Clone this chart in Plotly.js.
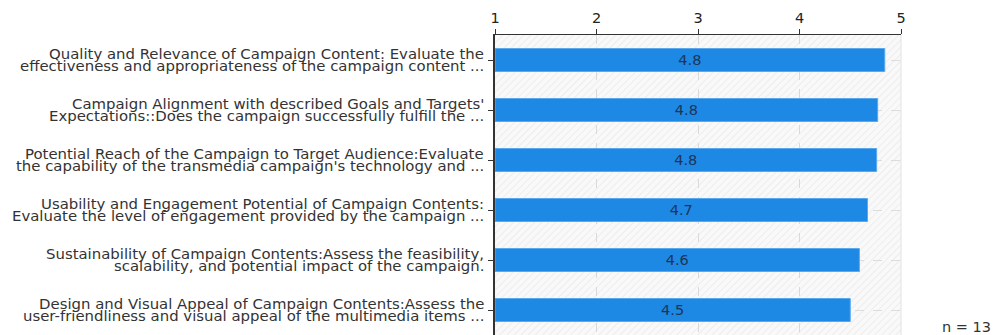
<!DOCTYPE html>
<html>
<head>
<meta charset="utf-8">
<script src="https://cdn.plot.ly/plotly-3.0.1.min.js"></script>
<style>html,body{margin:0;padding:0;background:#fff;}#chart{width:994px;height:335px;}</style>
</head>
<body>
<div id="chart"></div>
<script>
const categories = ["Q1", "Q2", "Q3", "Q4", "Q5", "Q6"];
const labelLine1 = [
  "Quality and Relevance of Campaign Content: Evaluate the",
  "Campaign Alignment with described Goals and Targets'",
  "Potential Reach of the Campaign to Target Audience:Evaluate",
  "Usability and Engagement Potential of Campaign Contents:",
  "Sustainability of Campaign Contents:Assess the feasibility,",
  "Design and Visual Appeal of Campaign Contents:Assess the"
];
const labelLine2 = [
  "effectiveness and appropriateness of the campaign content ...",
  "Expectations::Does the campaign successfully fulfill the ...",
  "the capability of the transmedia campaign's technology and ...",
  "Evaluate the level of engagement provided by the campaign ...",
  "scalability, and potential impact of the campaign.",
  "user-friendliness and visual appeal of the multimedia items ..."
];
const meanScores = [4.84, 4.77, 4.76, 4.67, 4.59, 4.5];
const tickValues = [1, 2, 3, 4, 5];
const sampleNote = "n = 13";

const W = 406, H = 300;
const hatch = `<svg xmlns="http://www.w3.org/2000/svg" width="${W}" height="${H}"><defs><pattern id="p" width="5" height="5" patternUnits="userSpaceOnUse" patternTransform="rotate(45)"><rect width="5" height="5" fill="#f9f9f9"/><line x1="0" y1="0" x2="0" y2="5" stroke="#e6e6e6" stroke-width="1.2"/></pattern></defs><rect width="${W}" height="${H}" fill="url(#p)"/></svg>`;
const hatchURI = "data:image/svg+xml;base64," + btoa(hatch);

const trace = {
  type: "bar",
  orientation: "h",
  y: categories,
  base: 1,
  x: meanScores.map(v => v - 1),
  customdata: meanScores,
  texttemplate: "%{customdata:.1f}",
  marker: {color: "#1e88e5", line: {color: "#5aa8ee", width: 1}},
  width: 0.46,
  textposition: "inside",
  insidetextanchor: "middle",
  textfont: {family: "DejaVu Sans", size: 14.5, color: "#1d3557"},
  hoverinfo: "skip"
};

const labelFont = {family: "DejaVu Sans", size: 14.9, color: "#333333"};
const annotations = [];
categories.forEach((c, i) => {
  annotations.push({text: labelLine1[i], xref: "paper", yref: "y", x: 0, y: c,
    xanchor: "right", yanchor: "middle", xshift: -9, yshift: 6.5, showarrow: false, font: labelFont});
  annotations.push({text: labelLine2[i], xref: "paper", yref: "y", x: 0, y: c,
    xanchor: "right", yanchor: "middle", xshift: -9, yshift: -6, showarrow: false, font: labelFont});
});
annotations.push({
  text: sampleNote, xref: "paper", yref: "paper",
  x: 1.2265, y: 0.027, xanchor: "right", yanchor: "middle",
  showarrow: false, font: {family: "DejaVu Sans", size: 14.5, color: "#333"}
});

const layout = {
  width: 994, height: 335,
  margin: {l: 495, r: 93, t: 35, b: 0, pad: 0},
  paper_bgcolor: "#ffffff",
  plot_bgcolor: "rgba(0,0,0,0)",
  showlegend: false,
  font: {family: "DejaVu Sans", color: "#333333"},
  xaxis: {
    side: "top",
    range: [1, 5],
    tickvals: tickValues,
    ticktext: tickValues.map(String),
    ticks: "outside", ticklen: 5, tickcolor: "#333",
    showline: true, linecolor: "#333", linewidth: 1.5,
    showgrid: true, gridcolor: "#d9d9d9", griddash: "dash", gridwidth: 1,
    zeroline: false,
    tickfont: {family: "DejaVu Sans", size: 14.5, color: "#222"},
    fixedrange: true
  },
  yaxis: {
    autorange: "reversed",
    showticklabels: false,
    ticks: "outside", ticklen: 5, tickcolor: "#333",
    showline: true, linecolor: "#333", linewidth: 2,
    showgrid: true, gridcolor: "#dcdcdc", griddash: "dash",
    fixedrange: true
  },
  images: [{
    source: hatchURI, xref: "paper", yref: "paper",
    x: 0, y: 1, sizex: 1, sizey: 1, xanchor: "left", yanchor: "top",
    sizing: "stretch", layer: "below"
  }],
  shapes: [{type: "line", xref: "paper", yref: "paper", x0: 1, x1: 1, y0: 0, y1: 1,
    line: {color: "#e2e2e2", width: 1}}],
  annotations: annotations
};

Plotly.newPlot("chart", [trace], layout, {displayModeBar: false, staticPlot: true});
</script>
</body>
</html>
